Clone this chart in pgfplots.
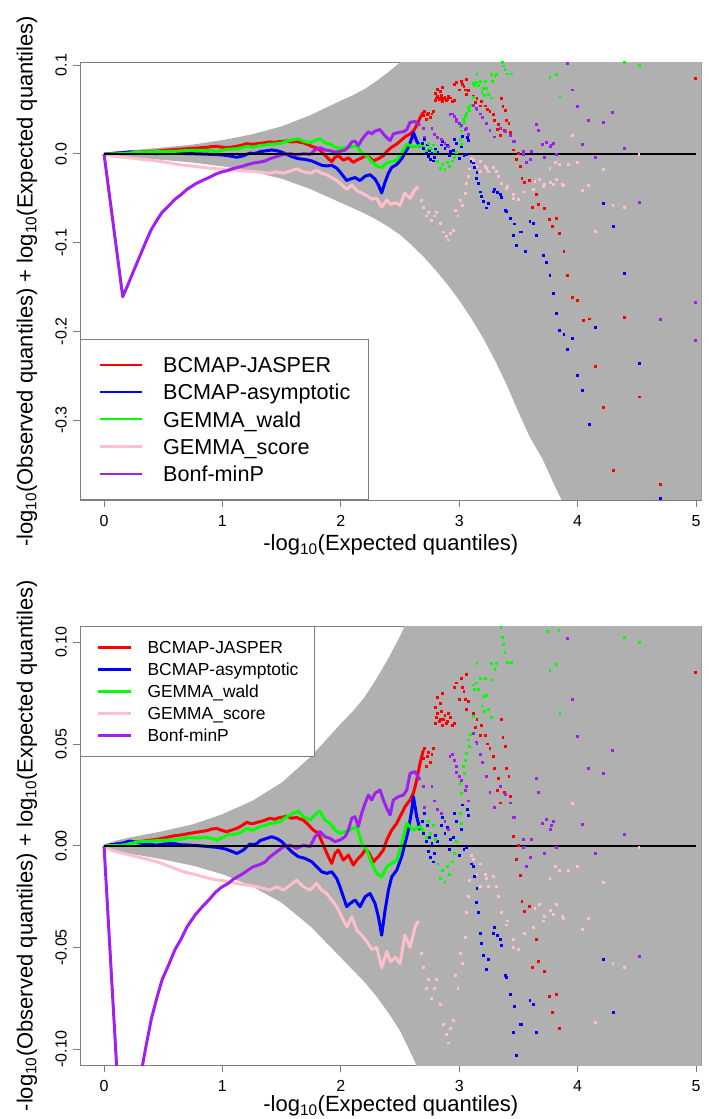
\documentclass[border=0pt]{standalone}
\usepackage{fontspec}
\setmainfont{Liberation Sans}
\usepackage{pgfplots}
\pgfplotsset{compat=1.18}
\usepackage{pgfplotstable}

\definecolor{bandgray}{RGB}{176,176,176}
\definecolor{framegray}{RGB}{125,125,125}
\definecolor{rred}{RGB}{255,0,0}
\definecolor{rblue}{RGB}{0,0,255}
\definecolor{rgreen}{RGB}{0,255,0}
\definecolor{rpink}{RGB}{255,192,203}
\definecolor{rpurple}{RGB}{160,32,240}

\pgfplotstableread{
x y
0 0
0.05 0.0015
0.1 0.0025
0.2 0.0038
0.35 0.0055
0.5 0.0072
0.75 0.0105
1.0 0.0155
1.25 0.022
1.5 0.031
1.75 0.044
2.0 0.060
2.1 0.066
2.2 0.073
2.3 0.082
2.4 0.092
2.5 0.103
2.6 0.116
2.7 0.130
2.8 0.146
3.0 0.184
3.5 0.33
4.0 0.58
5.05 2.0
5.05 -2.0
4.2 -0.55
4.0 -0.45
3.9 -0.40
3.8 -0.372
3.7 -0.343
3.6 -0.320
3.5 -0.291
3.4 -0.260
3.3 -0.232
3.2 -0.207
3.1 -0.185
3.0 -0.165
2.9 -0.147
2.8 -0.131
2.7 -0.116
2.6 -0.103
2.5 -0.091
2.4 -0.082
2.3 -0.074
2.2 -0.067
2.1 -0.061
2.0 -0.055
1.75 -0.040
1.5 -0.028
1.25 -0.020
1.0 -0.014
0.75 -0.0098
0.5 -0.0068
0.35 -0.0052
0.2 -0.0038
0.1 -0.0026
0.05 -0.0015
0 0
}\band

\pgfplotstableread{
x y
0 0
0.08 0.0005
0.163 0.0011
0.22 0.0015
0.304 0.0020
0.37 0.0026
0.445 0.0031
0.52 0.0040
0.586 0.0048
0.65 0.0053
0.726 0.0061
0.80 0.0068
0.867 0.0074
0.91 0.0082
0.952 0.0085
0.99 0.0076
1.036 0.0069
1.08 0.0077
1.12 0.0085
1.16 0.0097
1.205 0.0115
1.233 0.0110
1.261 0.0108
1.29 0.0115
1.318 0.0118
1.36 0.0126
1.402 0.0135
1.44 0.0130
1.487 0.0139
1.515 0.0141
1.543 0.0146
1.585 0.0135
1.627 0.0139
1.655 0.0131
1.684 0.0126
1.726 0.0102
1.768 0.0077
1.81 0.0061
1.852 0.0003
1.895 -0.0054
1.923 -0.0087
1.951 -0.0038
1.979 -0.0021
2.0 -0.0045
2.021 -0.0071
2.064 -0.0046
2.106 -0.0095
2.134 -0.0071
2.176 -0.0046
2.205 -0.0021
2.233 -0.0030
2.275 -0.0079
2.317 -0.0054
2.359 -0.0021
2.388 0.0028
2.43 0.0077
2.472 0.0110
2.514 0.0159
2.542 0.0192
2.585 0.0225
2.613 0.0258
2.641 0.0323
2.669 0.0405
2.697 0.0470
}\redDense

\pgfplotstableread{
x y
2.70 0.043
2.71 0.048
2.72 0.039
2.73 0.044
2.74 0.046
2.76 0.041
2.77 0.045
2.78 0.048
2.80 0.060
2.80 0.068
2.81 0.063
2.82 0.065
2.82 0.073
2.83 0.061
2.84 0.062
2.84 0.070
2.85 0.066
2.86 0.059
2.86 0.075
2.87 0.062
2.88 0.064
2.89 0.060
2.90 0.061
2.91 0.065
2.93 0.063
2.94 0.059
2.96 0.060
2.96 0.078
2.98 0.080
3.00 0.072
3.02 0.082
3.03 0.078
3.04 0.076
3.055 0.072
3.06 0.084
3.064 0.067
3.08 0.071
3.12 0.065
3.14 0.058
3.15 0.062
3.18 0.054
3.19 0.059
3.22 0.054
3.24 0.050
3.26 0.048
3.29 0.044
3.30 0.038
3.32 0.027
3.33 0.033
3.35 0.021
3.36 0.062
3.37 0.053
3.38 0.026
3.39 0.049
3.40 0.038
3.42 0.034
3.43 0.024
3.46 0.0044
3.48 -0.0067
3.50 0.0
3.52 -0.0146
3.53 -0.0276
3.55 -0.0325
3.57 -0.010
3.59 -0.030
3.62 -0.060
3.65 -0.046
3.67 -0.057
3.72 -0.062
3.76 -0.074
3.79 -0.082
3.82 -0.073
3.85 -0.090
3.885 -0.110
3.916 -0.137
3.956 -0.162
3.998 -0.165
4.046 -0.188
4.097 -0.186
4.153 -0.240
4.218 -0.286
4.30 -0.357
4.395 -0.184
4.522 -0.274
4.70 -0.373
4.998 0.085
}\redPts

\pgfplotstableread{
x y
0 0
0.08 0.0006
0.15 0.0012
0.22 0.0023
0.28 0.0015
0.332 0.0011
0.39 0.0006
0.445 0.0003
0.52 0.0009
0.586 0.0011
0.65 0.0005
0.726 0.0003
0.78 0.0001
0.839 -0.0002
0.90 -0.0005
0.952 -0.0008
1.0 -0.0013
1.036 -0.0018
1.08 -0.0028
1.12 -0.0038
1.15 -0.0030
1.177 -0.0021
1.205 -0.0005
1.233 0.0008
1.26 0.0005
1.29 0.0010
1.318 0.0025
1.374 0.0036
1.416 0.0044
1.458 0.0036
1.501 0.0020
1.543 -0.0005
1.585 -0.0030
1.641 -0.0054
1.697 -0.0062
1.754 -0.0079
1.796 -0.0103
1.838 -0.0128
1.881 -0.0136
1.923 -0.0128
1.965 -0.0161
1.993 -0.0202
2.021 -0.0251
2.05 -0.0300
2.078 -0.0284
2.12 -0.0267
2.162 -0.0300
2.205 -0.0251
2.247 -0.0235
2.289 -0.0284
2.317 -0.0349
2.345 -0.0440
2.374 -0.0317
2.402 -0.0218
2.43 -0.0153
2.472 -0.0120
2.514 -0.0054
2.542 0.0011
2.571 0.0077
2.599 0.0176
2.613 0.0241
2.641 0.0143
2.669 0.0077
}\blueDense

\pgfplotstableread{
x y
2.69 0.012
2.70 0.006
2.71 0.016
2.72 0.002
2.73 0.010
2.74 -0.003
2.75 0.004
2.76 -0.006
2.77 0.001
2.78 -0.008
2.79 -0.004
2.80 0.005
2.82 0.002
2.85 0.010
2.86 0.014
2.88 0.006
2.90 0.009
2.92 -0.002
2.93 0.003
2.95 0.004
2.96 0.016
2.98 0.012
3.00 -0.005
3.02 0.008
3.03 0.020
3.04 -0.002
3.063 -0.001
3.07 0.018
3.075 0.015
3.105 -0.009
3.12 -0.010
3.13 -0.015
3.148 -0.028
3.15 -0.021
3.16 -0.033
3.176 -0.043
3.19 -0.048
3.204 -0.054
3.232 -0.061
3.25 -0.056
3.288 -0.043
3.30 -0.040
3.32 -0.044
3.345 -0.046
3.36 -0.049
3.39 -0.064
3.401 -0.065
3.43 -0.073
3.47 -0.079
3.46 -0.092
3.48 -0.103
3.514 -0.088
3.53 -0.088
3.556 -0.110
3.598 -0.076
3.63 -0.078
3.65 -0.092
3.711 -0.114
3.74 -0.122
3.767 -0.137
3.795 -0.157
3.823 -0.180
3.85 -0.199
3.885 -0.204
3.916 -0.220
3.956 -0.208
3.998 -0.250
4.04 -0.267
4.097 -0.305
4.153 -0.196
4.218 -0.056
4.30 -0.082
4.395 -0.135
4.522 -0.236
4.70 -0.388
}\bluePts

\pgfplotstableread{
x y
0 0
0.08 0.0
0.163 0.0003
0.23 0.0012
0.304 0.0020
0.37 0.0022
0.445 0.0025
0.52 0.0027
0.586 0.0028
0.65 0.0033
0.726 0.0041
0.80 0.0038
0.867 0.0041
0.91 0.0036
0.952 0.0028
1.0 0.0040
1.036 0.0052
1.08 0.0055
1.12 0.0057
1.16 0.0068
1.205 0.0085
1.233 0.0078
1.261 0.0077
1.318 0.0094
1.36 0.0100
1.402 0.0110
1.44 0.0112
1.487 0.0118
1.543 0.0143
1.599 0.0159
1.641 0.0170
1.684 0.0143
1.74 0.0126
1.796 0.0159
1.824 0.0170
1.866 0.0126
1.909 0.0110
1.951 0.0077
1.993 0.0061
2.036 0.0069
2.078 0.0077
2.134 0.0094
2.176 0.0011
2.219 -0.0021
2.261 -0.0087
2.303 -0.0136
2.345 -0.0153
2.388 -0.0103
2.43 -0.0087
2.472 -0.0071
2.514 0.0011
2.557 0.0110
2.613 0.0077
2.669 0.0094
2.70 0.0070
}\greenDense

\pgfplotstableread{
x y
2.72 0.004
2.74 0.012
2.76 0.006
2.78 0.010
2.80 0.003
2.82 -0.009
2.84 -0.016
2.86 -0.012
2.88 -0.018
2.90 -0.010
2.92 -0.014
2.94 -0.008
2.96 -0.004
2.98 0.002
3.007 0.0159
3.021 0.011
3.007 0.0307
3.021 0.0258
3.035 0.0389
3.043 0.0356
3.055 0.042
3.063 0.0454
3.083 0.0487
3.077 0.052
3.099 0.0545
3.119 0.0635
3.119 0.079
3.128 0.0766
3.148 0.080
3.161 0.0766
3.178 0.082
3.192 0.0687
3.204 0.0733
3.212 0.066
3.223 0.082
3.234 0.074
3.251 0.067
3.271 0.063
3.274 0.0894
3.28 0.0815
3.302 0.0868
3.316 0.0897
3.15 0.0897
3.353 0.1074
3.364 0.1025
3.376 0.099
3.387 0.095
3.41 0.090
3.438 0.090
3.742 0.1055
3.767 0.086
3.823 0.089
3.843 0.1058
3.851 0.065
4.395 0.1025
4.522 0.0999
}\greenPts

\pgfplotstableread{
x y
0 0
0.05 -0.0020
0.107 -0.0030
0.16 -0.0038
0.22 -0.0046
0.28 -0.0055
0.332 -0.0062
0.39 -0.0070
0.445 -0.0079
0.50 -0.0090
0.557 -0.0103
0.61 -0.0115
0.67 -0.0128
0.73 -0.0136
0.783 -0.0144
0.84 -0.0153
0.895 -0.0162
0.95 -0.0168
1.008 -0.0172
1.06 -0.0180
1.12 -0.0185
1.18 -0.0192
1.233 -0.0195
1.275 -0.0200
1.318 -0.0205
1.36 -0.0212
1.402 -0.0218
1.458 -0.0202
1.515 -0.0218
1.571 -0.0194
1.627 -0.0169
1.684 -0.0202
1.74 -0.0218
1.796 -0.0185
1.838 -0.0218
1.881 -0.0235
1.923 -0.0267
1.965 -0.0300
2.007 -0.0349
2.05 -0.0399
2.092 -0.0349
2.134 -0.0415
2.176 -0.0440
2.219 -0.0470
2.261 -0.0510
2.303 -0.0500
2.345 -0.0600
2.388 -0.0520
2.42 -0.0570
2.46 -0.0550
2.50 -0.0580
2.54 -0.0440
2.585 -0.0500
2.627 -0.0400
2.655 -0.0370
}\pinkDense

\pgfplotstableread{
x y
2.683 -0.053
2.70 -0.060
2.725 -0.070
2.74 -0.066
2.768 -0.075
2.79 -0.070
2.81 -0.066
2.84 -0.078
2.87 -0.088
2.89 -0.093
2.91 -0.097
2.93 -0.090
2.95 -0.086
2.97 -0.064
2.99 -0.070
3.01 -0.053
3.03 -0.058
3.05 -0.045
3.06 -0.033
3.08 -0.025
3.09 -0.017
3.105 -0.005
3.12 -0.007
3.15 -0.014
3.176 -0.009
3.18 -0.020
3.22 -0.014
3.232 -0.016
3.25 -0.020
3.29 -0.015
3.317 -0.020
3.33 -0.025
3.36 -0.033
3.401 -0.039
3.41 -0.037
3.458 -0.050
3.46 -0.046
3.50 -0.051
3.55 -0.043
3.63 -0.040
3.64 -0.031
3.68 -0.029
3.71 -0.037
3.72 -0.035
3.767 -0.016
3.77 -0.032
3.795 -0.034
3.81 -0.010
3.823 -0.029
3.85 -0.012
3.87 -0.035
3.882 -0.036
3.92 -0.012
3.956 0.0208
3.998 -0.010
4.043 -0.041
4.094 -0.036
4.153 -0.087
4.22 -0.018
4.299 -0.058
4.395 -0.060
4.518 -0.001
}\pinkPts

\pgfplotstableread{
x y
0 0
0.158 -0.161
0.20 -0.148
0.248 -0.1325
0.30 -0.116
0.35 -0.100
0.40 -0.085
0.45 -0.074
0.49 -0.066
0.55 -0.058
0.60 -0.051
0.65 -0.046
0.70 -0.040
0.77 -0.034
0.83 -0.030
0.88 -0.027
0.94 -0.023
0.99 -0.0205
1.05 -0.0185
1.092 -0.0165
1.135 -0.0150
1.177 -0.0136
1.22 -0.0118
1.261 -0.0103
1.318 -0.0092
1.36 -0.0080
1.402 -0.0054
1.458 -0.0030
1.515 -0.0005
1.571 0.0003
1.627 -0.0013
1.684 0.0003
1.74 -0.0005
1.782 0.0044
1.824 0.0069
1.866 0.0044
1.909 0.0036
1.951 0.0020
1.993 0.0028
2.036 0.0044
2.064 0.0077
2.092 0.0135
2.12 0.0143
2.148 0.0094
2.176 0.0159
2.205 0.0208
2.233 0.0249
2.261 0.0225
2.289 0.0258
2.331 0.0274
2.359 0.0225
2.388 0.0184
2.416 0.0151
2.444 0.0225
2.486 0.0241
2.528 0.0249
2.557 0.0274
2.585 0.0356
2.627 0.0364
2.669 0.0323
}\purpleDense

\pgfplotstableread{
x y
2.70 0.029
2.71 0.019
2.77 0.029
2.79 0.022
2.82 0.018
2.85 0.016
2.88 0.012
2.91 0.008
2.922 0.044
2.94 0.045
2.96 0.042
2.979 0.036
2.98 0.039
3.00 0.034
3.02 0.032
3.05 0.027
3.063 0.029
3.08 0.022
3.12 0.055
3.148 0.051
3.15 0.050
3.18 0.045
3.20 0.041
3.23 0.034
3.26 0.026
3.30 0.019
3.35 0.029
3.39 0.025
3.43 0.021
3.458 0.014
3.47 0.014
3.54 0.003
3.542 -0.001
3.57 -0.010
3.60 -0.006
3.61 0.003
3.65 0.033
3.67 0.026
3.70 0.011
3.72 -0.004
3.74 0.013
3.77 0.008
3.781 0.010
3.795 0.012
3.823 -0.001
3.916 0.102
3.956 0.072
3.998 0.0535
4.043 0.0103
4.094 0.0379
4.153 -0.004
4.22 0.0353
4.297 0.047
4.398 0.0056
4.521 -0.0546
4.70 -0.187
4.998 -0.167
4.998 -0.210
}\purplePts

\pgfplotsset{
  qq/.style={
    scale only axis, width=621.7bp,
    xmin=-0.203, xmax=5.048,
    axis line style={framegray, line width=0.8bp},
    every tick/.style={framegray, line width=0.8bp},
    tick align=outside, major tick length=7bp,
    xtick pos=left, ytick pos=left,
    xtick={0,1,2,3,4,5},
    xticklabels={0,1,2,3,4,5},
    tick label style={font=\fontsize{16bp}{19bp}\selectfont},
    xticklabel style={anchor=north, inner sep=0pt, yshift=-8bp},
    yticklabel style={rotate=90, anchor=south, inner sep=0pt, yshift=6bp},
    label style={font=\fontsize{22bp}{26bp}\selectfont, inner sep=0pt},
    xlabel={-log\textsubscript{10}(Expected quantiles)},
    ylabel={-log\textsubscript{10}(Observed quantiles) + log\textsubscript{10}(Expected quantiles)},
    y label style={at={(axis description cs:-0.0853,0.5)}, anchor=center},
    scaled y ticks=false,
  },
  dense/.style={line width=3bp, line join=round, forget plot},
  pts/.style={only marks, mark=square*, mark size=0.95bp, mark options={line width=0pt}, forget plot},
}

\newcommand{\qqcontent}{%
  \addplot[fill=bandgray, draw=none, forget plot] table {\band};
  \addplot[rred, dense] table {\redDense};
  \addplot[rred, pts] table {\redPts};
  \addplot[rblue, dense] table {\blueDense};
  \addplot[rblue, pts] table {\bluePts};
  \addplot[rgreen, dense] table {\greenDense};
  \addplot[rgreen, pts] table {\greenPts};
  \addplot[rpink, dense] table {\pinkDense};
  \addplot[rpink, pts] table {\pinkPts};
  \addplot[rpurple, dense] table {\purpleDense};
  \addplot[rpurple, pts] table {\purplePts};
  \addplot[black, line width=1.6bp, forget plot] coordinates {(0,0) (5,0)};
  \addlegendimage{rred, line width=2.2bp}
  \addlegendentry{BCMAP-JASPER}
  \addlegendimage{rblue, line width=2.2bp}
  \addlegendentry{BCMAP-asymptotic}
  \addlegendimage{rgreen, line width=2.2bp}
  \addlegendentry{GEMMA\_wald}
  \addlegendimage{rpink, line width=2.2bp}
  \addlegendentry{GEMMA\_score}
  \addlegendimage{rpurple, line width=2.2bp}
  \addlegendentry{Bonf-minP}
}

\begin{document}
\begin{tikzpicture}
\useasboundingbox (0,0) rectangle (709bp,-1119bp);
\begin{axis}[qq,
  at={(80bp,-62.5bp)}, anchor=north west, height=437.5bp,
  ymin=-0.390, ymax=0.103,
  ytick={-0.3,-0.2,-0.1,0,0.1},
  yticklabels={-0.3,-0.2,-0.1,0.0,0.1},
  x label style={at={(axis description cs:0.5,-0.103)}, anchor=center},
  legend style={at={(axis description cs:0,0)}, anchor=south west,
    draw=framegray, line width=0.8bp, fill=white,
    inner xsep=18.5bp, inner ysep=15bp, row sep=5.6bp, column sep=20.3bp,
    font=\fontsize{21.6bp}{26bp}\selectfont,
    nodes={inner sep=0pt, text height=18.5bp, text depth=3.1bp},
    cells={anchor=west}},
  legend image code/.code={\draw[#1] (0bp,0bp) -- (41.7bp,0bp);},
]
\qqcontent
\end{axis}
\begin{axis}[qq,
  at={(80bp,-626.1bp)}, anchor=north west, height=439.3bp,
  ymin=-0.108, ymax=0.108,
  ytick={-0.1,-0.05,0,0.05,0.1},
  yticklabels={-0.10,-0.05,0.00,0.05,0.10},
  x label style={at={(axis description cs:0.5,-0.0925)}, anchor=center},
  legend style={at={(axis description cs:0,1)}, anchor=north west,
    draw=framegray, line width=0.8bp, fill=white,
    inner xsep=16bp, inner ysep=12.4bp, row sep=4.6bp, column sep=15.7bp,
    font=\fontsize{17.4bp}{21bp}\selectfont,
    nodes={inner sep=0pt, text height=14.9bp, text depth=2.5bp},
    cells={anchor=west}},
  legend image code/.code={\draw[#1] (0bp,0bp) -- (33.3bp,0bp);},
]
\qqcontent
\end{axis}
\end{tikzpicture}
\end{document}
